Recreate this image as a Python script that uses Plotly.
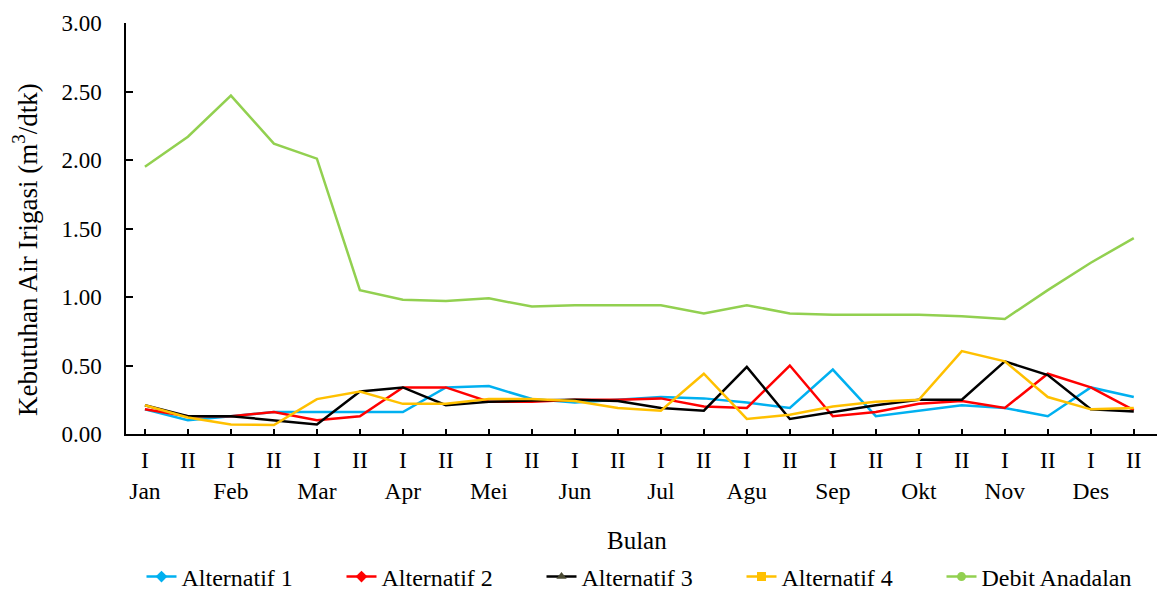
import plotly.graph_objects as go

months = ["Jan", "Feb", "Mar", "Apr", "Mei", "Jun", "Jul", "Agu", "Sep", "Okt", "Nov", "Des"]
periods = ["I", "II"]
tick_labels = []
for m in months:
    tick_labels.append(periods[0] + "<br>" + m)
    tick_labels.append(periods[1])

alt1 = [0.18, 0.10, 0.13, 0.16, 0.16, 0.16, 0.16, 0.34, 0.35, 0.255, 0.23, 0.25,
        0.27, 0.26, 0.23, 0.19, 0.47, 0.13, 0.17, 0.21, 0.19, 0.13, 0.34, 0.27]
alt2 = [0.18, 0.13, 0.13, 0.16, 0.10, 0.13, 0.34, 0.34, 0.235, 0.235, 0.25, 0.25,
        0.26, 0.20, 0.19, 0.50, 0.13, 0.16, 0.22, 0.24, 0.19, 0.44, 0.34, 0.175]
alt3 = [0.21, 0.13, 0.13, 0.10, 0.07, 0.31, 0.34, 0.21, 0.235, 0.245, 0.25, 0.24,
        0.19, 0.17, 0.49, 0.11, 0.16, 0.21, 0.25, 0.25, 0.53, 0.43, 0.18, 0.165]
alt4 = [0.21, 0.12, 0.07, 0.065, 0.255, 0.31, 0.22, 0.22, 0.255, 0.255, 0.24, 0.19,
        0.17, 0.44, 0.11, 0.14, 0.20, 0.235, 0.25, 0.605, 0.53, 0.27, 0.18, 0.19]
debit = [1.95, 2.17, 2.47, 2.12, 2.01, 1.05, 0.98, 0.97, 0.99, 0.93, 0.94, 0.94,
         0.94, 0.88, 0.94, 0.88, 0.87, 0.87, 0.87, 0.86, 0.84, 1.05, 1.25, 1.43]

series = [
    ("Alternatif 1", alt1, "#00B0F0", "diamond", "#00B0F0"),
    ("Alternatif 2", alt2, "#FF0000", "diamond", "#FF0000"),
    ("Alternatif 3", alt3, "#000000", "triangle-up", "#4A4A33"),
    ("Alternatif 4", alt4, "#FFC000", "square", "#FFC000"),
    ("Debit Anadalan", debit, "#92D050", "circle", "#92D050"),
]

x = list(range(len(tick_labels)))
x_range = [-0.44, len(x) - 1 + 0.54]

FONT = "'Liberation Serif', 'Times New Roman', serif"
fig = go.Figure()
for name, vals, color, sym, mcol in series:
    fig.add_trace(go.Scatter(x=x, y=vals, mode="lines", name=name,
                             line=dict(color=color, width=2.5), showlegend=False))
for name, vals, color, sym, mcol in series:
    fig.add_trace(go.Scatter(x=[None], y=[None], mode="lines+markers", name=name,
                             line=dict(color=color, width=2.5),
                             marker=dict(symbol=sym, size=9, color=mcol)))

fig.update_layout(
    width=1168, height=590,
    margin=dict(l=126, r=11, t=23, b=156),
    paper_bgcolor="white", plot_bgcolor="white",
    font=dict(family=FONT, size=24, color="black"),
    legend=dict(orientation="h", x=0.5, xanchor="center",
                yref="container", y=0.022, yanchor="middle",
                font=dict(family=FONT, size=24), entrywidth=155, traceorder="normal"),
    annotations=[
        dict(text="Kebutuhan Air Irigasi (m<sup>3</sup>/dtk)", textangle=-90,
             xref="paper", yref="paper", x=-0.0979, y=0.448, xanchor="center", yanchor="middle",
             showarrow=False, font=dict(family=FONT, size=27)),
        dict(text="Bulan", xref="paper", yref="paper", x=0.4956, y=-0.258,
             xanchor="center", yanchor="middle", showarrow=False, font=dict(family=FONT, size=25)),
    ],
)
fig.update_xaxes(
    range=x_range, tickmode="array", tickvals=x,
    ticktext=tick_labels, automargin=False,
    showline=True, linecolor="black", linewidth=1.5,
    ticks="inside", ticklen=5, tickcolor="black", tickwidth=1.5,
    minor=dict(tickmode="array", tickvals=[x_range[1]], ticks="inside", ticklen=5,
               tickcolor="black", tickwidth=1.5, showgrid=False),
    showgrid=False, zeroline=False, ticklabelstandoff=4,
    tickfont=dict(family=FONT, size=23.5),
)
fig.update_yaxes(
    range=[0, 3], tickmode="array", tickvals=[0, 0.5, 1, 1.5, 2, 2.5, 3],
    tickformat=".2f", automargin=False,
    showline=True, linecolor="black", linewidth=1.5,
    ticks="inside", ticklen=7, tickcolor="black", tickwidth=1.5,
    showgrid=False, zeroline=False, ticklabelstandoff=18,
    tickfont=dict(family=FONT, size=23),
)

fig.write_html("out.html")
